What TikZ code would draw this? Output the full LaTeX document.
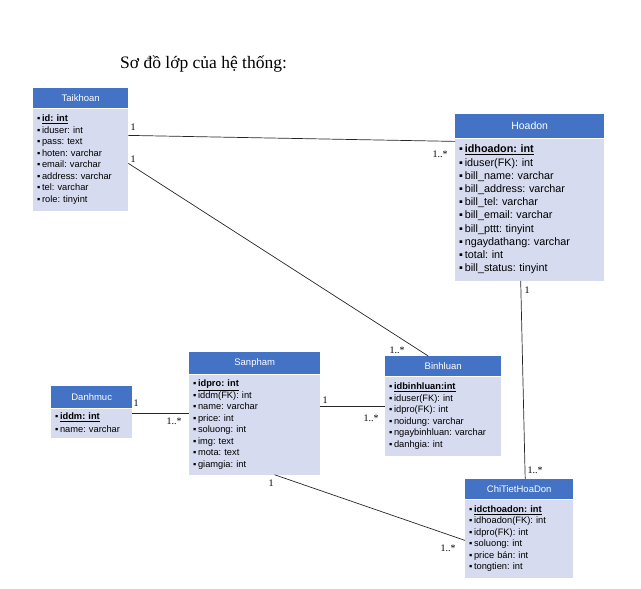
\documentclass[tikz,border=0pt]{standalone}
\usepackage{fontspec}
\setmainfont{Liberation Serif}
\setsansfont{Liberation Sans}
\usepackage{tikz}
\usetikzlibrary{positioning}
\frenchspacing

\definecolor{hdrblue}{RGB}{68,114,196}
\definecolor{bodylav}{RGB}{214,219,240}

\tikzset{
  hdr/.style={fill=hdrblue, text=white, anchor=north west, inner sep=0pt,
    font=\sffamily\fontsize{9.5}{9.5}\selectfont},
  attrs/.style={fill=bodylav, anchor=north west, align=left, inner xsep=4pt, inner ysep=0pt,
    font=\sffamily\fontsize{9.3}{11.5}\selectfont},
  mult/.style={inner sep=0pt, font=\fontsize{10}{10}\selectfont},
  assoc/.style={draw=black!85, line width=0.7pt}
}
\newcommand{\pk}[1]{\underline{\textbf{#1}}}
\newcommand{\bl}{▪\,}

\begin{document}
\begin{tikzpicture}[x=1pt,y=-1pt]
        \useasboundingbox (0,0) rectangle (641,589);
        \node[anchor=base west, inner sep=0pt, font=\fontsize{17.5}{17.5}\selectfont] (title) at (120,68) {Sơ đồ lớp của hệ thống:};

        % classes
        \node[hdr, minimum width=95pt, minimum height=20pt] (tk) at (33,88) {Taikhoan};
        \node[attrs, minimum width=95pt, minimum height=102pt, text width=87pt] (tkb) at (tk.south west)
          {\bl\pk{id: int}\\ \bl iduser: int\\ \bl pass: text\\ \bl hoten: varchar\\ \bl email: varchar\\ \bl address: varchar\\ \bl tel: varchar\\ \bl role: tinyint};

        \node[hdr, minimum width=149pt, minimum height=24pt, font=\sffamily\fontsize{10.5}{10.5}\selectfont] (hd) at (455,114) {Hoadon};
        \node[attrs, minimum width=149pt, minimum height=142pt, text width=141pt, font=\sffamily\fontsize{10.8}{13.2}\selectfont] (hdb) at (hd.south west)
          {\bl\pk{idhoadon: int}\\ \bl iduser(FK): int\\ \bl bill\_name: varchar\\ \bl bill\_address: varchar\\ \bl bill\_tel: varchar\\ \bl bill\_email: varchar\\ \bl bill\_pttt: tinyint\\ \bl ngaydathang: varchar\\ \bl total: int\\ \bl bill\_status: tinyint};

        \node[hdr, minimum width=131pt, minimum height=22pt] (sp) at (189,352) {Sanpham};
        \node[attrs, minimum width=131pt, minimum height=100pt, text width=123pt] (spb) at (sp.south west)
          {\bl\pk{idpro: int}\\ \bl iddm(FK): int\\ \bl name: varchar\\ \bl price: int\\ \bl soluong: int\\ \bl img: text\\ \bl mota: text\\ \bl giamgia: int};

        \node[hdr, minimum width=116pt, minimum height=20pt] (bh) at (385,356) {Binhluan};
        \node[attrs, minimum width=116pt, minimum height=79pt, text width=108pt] (bhb) at (bh.south west)
          {\bl\pk{idbinhluan:int}\\ \bl iduser(FK): int\\ \bl idpro(FK): int\\ \bl noidung: varchar\\ \bl ngaybinhluan: varchar\\ \bl danhgia: int};

        \node[hdr, minimum width=108pt, minimum height=20pt] (ct) at (465,479) {ChiTietHoaDon};
        \node[attrs, minimum width=108pt, minimum height=78pt, text width=100pt] (ctb) at (ct.south west)
          {\bl\pk{idcthoadon: int}\\ \bl idhoadon(FK): int\\ \bl idpro(FK): int\\ \bl soluong: int\\ \bl price bán: int\\ \bl tongtien: int};

        \node[hdr, minimum width=81pt, minimum height=22pt] (dm) at (51,386) {Danhmuc};
        \node[attrs, minimum width=81pt, minimum height=29pt, text width=73pt, font=\sffamily\fontsize{9.3}{13}\selectfont] (dmb) at (dm.south west)
          {\bl\pk{iddm: int}\\ \bl name: varchar};

        % associations
        \draw[assoc] ([yshift=-27pt]tkb.north east) -- ([yshift=-3pt]hdb.north west);
        \draw[assoc] ([yshift=-55pt]tkb.north east) -- ([xshift=-15pt]bh.north);
        \draw[assoc] ([xshift=-9pt]hdb.south) -- ([xshift=6pt]ct.north);
        \draw[assoc] ([yshift=-5pt]dmb.north east) -- ([yshift=-39pt]spb.north west);
        \draw[assoc] ([yshift=-32pt]spb.north east) -- ([yshift=-30pt]bhb.north west);
        \draw[assoc] ([xshift=20pt]spb.south) -- ([yshift=-41pt]ctb.north west);

        % multiplicities
        \node[mult] (m1a) at (133,127) {1};
        \node[mult] (m1b) at (440,154) {1..*};
        \node[mult] (m2a) at (133,159) {1};
        \node[mult] (m2b) at (397,350) {1..*};
        \node[mult] (m3a) at (527,290) {1};
        \node[mult] (m3b) at (535,470) {1..*};
        \node[mult] (m4a) at (136,403) {1};
        \node[mult] (m4b) at (174,421) {1..*};
        \node[mult] (m5a) at (325,400) {1};
        \node[mult] (m5b) at (371,418) {1..*};
        \node[mult] (m6a) at (271,483) {1};
        \node[mult] (m6b) at (448,548) {1..*};
    \end{tikzpicture}
\end{document}
